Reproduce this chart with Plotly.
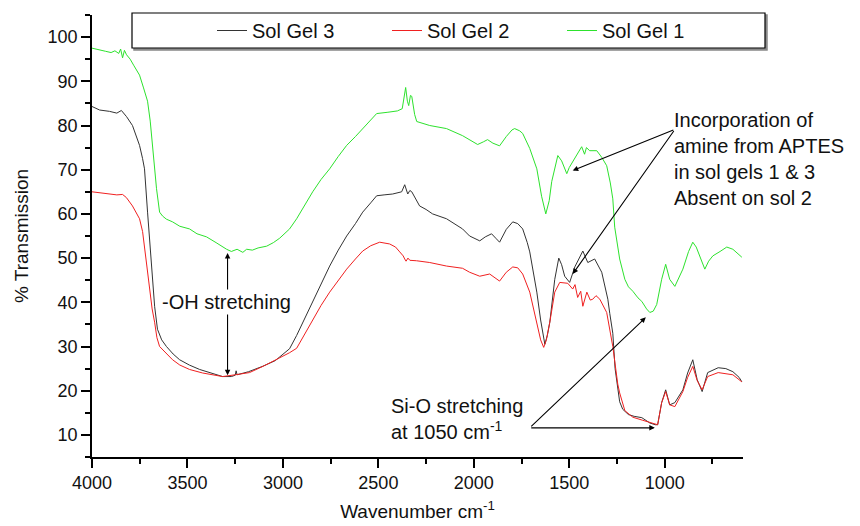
import plotly.graph_objects as go

# ---------------- data ----------------
wn_gel1 = [4000, 3960, 3930, 3900, 3880, 3860, 3850, 3840, 3830, 3819, 3800, 3780, 3751, 3730, 3709,
           3695, 3683, 3670, 3662, 3646, 3630, 3610, 3578, 3540, 3489, 3450, 3400, 3350, 3320, 3295,
           3270, 3240, 3210, 3190, 3160, 3130, 3085, 3050, 3017, 2965, 2928, 2890, 2844, 2800, 2755,
           2710, 2666, 2620, 2582, 2540, 2509, 2450, 2400, 2375, 2365, 2357, 2348, 2341, 2332, 2325,
           2310, 2299, 2231, 2143, 2059, 2000, 1980, 1950, 1928, 1900, 1865, 1830, 1800, 1786, 1760,
           1744, 1707, 1670, 1645, 1623, 1605, 1592, 1560, 1540, 1513, 1500, 1482, 1460, 1435, 1420,
           1410, 1393, 1356, 1330, 1304, 1285, 1272, 1262, 1246, 1236, 1209, 1190, 1167, 1140, 1120,
           1095, 1078, 1060, 1042, 1028, 1016, 995, 974, 947, 905, 875, 853, 835, 816, 790, 770, 748,
           710, 675, 643, 620, 596]
t_gel1 = [97.5, 97.0, 96.8, 96.5, 96.9, 96.3, 97.3, 95.3, 97.0, 96.0, 95.0, 93.5, 91.4, 88.5, 85.5,
          81.0, 75.5, 69.5, 65.7, 60.4, 59.5, 58.8, 58.2, 57.2, 56.6, 55.5, 54.8, 53.5, 52.6, 52.0,
          51.5, 52.0, 51.3, 52.0, 51.8, 52.3, 52.7, 53.5, 54.5, 56.6, 58.9, 61.8, 65.0, 67.8, 70.2,
          73.0, 75.5, 77.5, 79.3, 81.3, 82.7, 83.0, 83.3, 83.8, 86.0, 88.6, 85.5, 84.5, 86.8, 86.6,
          82.5, 80.9, 80.0, 79.3, 77.7, 76.2, 75.7, 76.3, 76.8, 76.0, 75.4, 77.5, 79.0, 79.3, 78.8,
          78.2, 74.8, 70.2, 64.0, 60.0, 63.0, 67.3, 73.2, 72.0, 69.1, 70.5, 71.8, 73.5, 75.2, 73.5,
          75.0, 74.3, 74.3, 72.8, 70.9, 67.0, 63.4, 57.0, 52.0, 49.8, 45.2, 43.5, 42.5, 41.0, 40.2,
          38.5, 37.7, 38.0, 39.5, 42.5, 45.2, 48.6, 45.2, 43.6, 47.5, 51.5, 53.6, 52.5, 50.5, 47.5,
          49.3, 50.5, 51.5, 52.5, 52.0, 51.2, 50.2]

wn_gel3 = [4000, 3960, 3908, 3870, 3846, 3819, 3788, 3770, 3751, 3735, 3725, 3709, 3698, 3688, 3672,
           3657, 3635, 3610, 3575, 3541, 3490, 3436, 3380, 3316, 3270, 3250, 3245, 3240, 3180, 3107,
           3040, 2990, 2965, 2928, 2890, 2844, 2800, 2755, 2710, 2666, 2620, 2582, 2540, 2509, 2470,
           2425, 2378, 2362, 2346, 2335, 2325, 2284, 2250, 2216, 2143, 2100, 2059, 2022, 1969, 1940,
           1907, 1885, 1865, 1830, 1796, 1770, 1744, 1720, 1707, 1670, 1650, 1628, 1615, 1602, 1576,
           1555, 1540, 1524, 1498, 1471, 1450, 1429, 1403, 1367, 1330, 1298, 1288, 1272, 1260, 1246,
           1236, 1220, 1190, 1160, 1120, 1078, 1050, 1037, 1016, 995, 974, 947, 905, 880, 853, 830,
           804, 775, 720, 680, 643, 610, 596]
t_gel3 = [84.3, 83.5, 83.2, 82.8, 83.4, 82.0, 80.0, 78.0, 75.5, 72.5, 70.2, 60.4, 54.0, 49.0, 39.1,
          33.9, 31.5, 30.0, 28.3, 27.0, 25.8, 24.8, 24.0, 23.2, 23.2, 23.5, 24.5, 23.6, 24.3, 25.5,
          26.8, 28.5, 29.5, 32.5, 36.0, 40.0, 44.3, 48.2, 51.8, 55.0, 57.8, 60.4, 62.5, 64.1, 64.3,
          64.5, 65.0, 66.6, 64.5, 65.3, 65.0, 61.8, 61.0, 60.0, 58.9, 57.8, 56.6, 55.0, 53.9, 54.8,
          55.5, 54.5, 53.6, 56.5, 58.2, 57.8, 56.6, 53.5, 51.4, 42.3, 36.0, 30.5, 32.5, 35.5, 45.2,
          50.0, 48.5, 45.9, 44.5, 48.0, 50.0, 51.6, 49.0, 49.8, 46.8, 40.7, 37.5, 33.0, 25.0, 21.0,
          17.5, 15.8, 14.6, 14.2, 13.9, 12.7, 12.3, 12.3, 17.3, 20.2, 16.8, 17.3, 20.2, 24.0, 27.0, 22.5,
          19.8, 24.1, 25.2, 25.0, 24.3, 23.0, 22.0]

wn_gel2 = [4000, 3960, 3908, 3870, 3840, 3820, 3788, 3751, 3735, 3725, 3710, 3699, 3685, 3672, 3660,
           3646, 3630, 3600, 3578, 3540, 3489, 3420, 3316, 3250, 3175, 3100, 3033, 2990, 2965, 2928,
           2890, 2844, 2800, 2755, 2710, 2666, 2620, 2582, 2540, 2493, 2441, 2410, 2388, 2370, 2362,
           2355, 2345, 2335, 2300, 2231, 2143, 2059, 2022, 1969, 1917, 1865, 1830, 1796, 1770, 1744,
           1707, 1670, 1650, 1634, 1620, 1602, 1576, 1550, 1508, 1482, 1470, 1456, 1440, 1429, 1408,
           1390, 1377, 1360, 1340, 1304, 1290, 1272, 1246, 1236, 1209, 1167, 1115, 1037, 1016, 995,
           974, 947, 905, 880, 853, 830, 804, 775, 720, 643, 596]
t_gel2 = [65.0, 64.8, 64.5, 64.3, 64.4, 63.7, 61.8, 58.9, 56.0, 52.7, 47.5, 43.0, 38.5, 35.5, 32.0,
          30.0, 29.3, 28.2, 27.0, 25.8, 24.8, 24.0, 23.2, 23.6, 24.1, 25.6, 27.0, 27.9, 28.6, 29.6,
          32.5, 36.1, 39.3, 42.3, 45.0, 47.5, 49.8, 51.6, 52.8, 53.6, 53.2, 52.5, 51.4, 50.5, 49.8,
          49.3, 50.0, 49.5, 49.4, 49.0, 48.2, 47.7, 46.8, 45.9, 46.4, 44.8, 46.8, 48.0, 47.8, 46.4,
          42.3, 35.5, 31.5, 29.8, 31.5, 35.5, 42.3, 44.5, 44.3, 43.0, 44.0, 41.1, 42.5, 39.1, 42.3,
          40.5, 40.7, 41.5, 40.7, 37.7, 34.5, 30.0, 21.5, 19.5, 15.5, 14.0, 13.3, 12.3, 17.3, 19.8,
          16.8, 16.4, 19.8, 23.0, 25.5, 22.3, 20.2, 23.2, 24.1, 23.6, 22.0]

series_names = ["Sol Gel 3", "Sol Gel 2", "Sol Gel 1"]
x_ticks = [4000, 3500, 3000, 2500, 2000, 1500, 1000]
y_ticks = [10, 20, 30, 40, 50, 60, 70, 80, 90, 100]

# ---------------- figure ----------------
FONT = "Arial, Liberation Sans, sans-serif"
fig = go.Figure()
fig.add_trace(go.Scatter(x=wn_gel3, y=t_gel3, mode="lines", name=series_names[0],
                         line=dict(color="#333333", width=1)))
fig.add_trace(go.Scatter(x=wn_gel2, y=t_gel2, mode="lines", name=series_names[1],
                         line=dict(color="#f02020", width=1)))
fig.add_trace(go.Scatter(x=wn_gel1, y=t_gel1, mode="lines", name=series_names[2],
                         line=dict(color="#2de22d", width=1)))

L, R, T, B = 92, 117, 15, 69
W, H = 860, 526
pw, ph = W - L - R, H - T - B


def px_x(p):
    return (p - L) / pw


def px_y(p):
    return 1 - (p - T) / ph


# legend frame (shadow + box)
fig.add_shape(type="rect", xref="paper", yref="paper",
              x0=px_x(134), x1=px_x(767), y0=px_y(50), y1=px_y(15),
              line=dict(color="#888888", width=1.5), fillcolor="#999999", layer="below")
fig.add_shape(type="rect", xref="paper", yref="paper",
              x0=px_x(132), x1=px_x(765), y0=px_y(48), y1=px_y(13),
              line=dict(color="black", width=1.2), fillcolor="white", layer="below")

arrow_kw = dict(showarrow=True, arrowhead=2, arrowsize=1, arrowwidth=1.1,
                arrowcolor="black", axref="x", ayref="y", text="")
ann = [
    dict(x=3290, y=23.5, ax=3290, ay=51.5, arrowside="end+start", **arrow_kw),
    dict(x=3646, y=40, xanchor="left", yanchor="middle", text="-OH stretching",
         showarrow=False, bgcolor="white", font=dict(size=20, color="#111")),
    dict(x=963, y=72.4, xanchor="left", yanchor="middle", align="left",
         text="Incorporation of<br>amine from APTES<br>in sol gels 1 &amp; 3<br>Absent on sol 2",
         showarrow=False, font=dict(size=20, color="#111")),
    dict(x=1482, y=69.8, ax=947, ay=79.1, **arrow_kw),
    dict(x=1482, y=46.4, ax=947, ay=79.1, **arrow_kw),
    dict(x=2446, y=13.6, xanchor="left", yanchor="middle", align="left",
         text="Si-O stretching<br>at 1050 cm<sup>-1</sup>",
         showarrow=False, font=dict(size=20, color="#111")),
    dict(x=1052, y=11.6, ax=1707, ay=11.6, **arrow_kw),
    dict(x=1099, y=36.6, ax=1707, ay=11.6, **arrow_kw),
]
fig.update_layout(annotations=ann)

fig.update_layout(
    width=W, height=H,
    margin=dict(l=L, r=R, t=T, b=B, autoexpand=False),
    paper_bgcolor="white", plot_bgcolor="white",
    font=dict(family=FONT, color="#111"),
    showlegend=True,
    legend=dict(orientation="h", x=px_x(212), xanchor="left", y=px_y(30.5), yanchor="middle",
                bgcolor="rgba(0,0,0,0)", borderwidth=0, font=dict(size=20),
                entrywidth=130, entrywidthmode="pixels"),
    xaxis=dict(range=[4000, 590], tickvals=x_ticks, showgrid=False, zeroline=False,
               showline=True, linecolor="black", linewidth=1.6, automargin=False,
               ticks="outside", ticklen=9, tickwidth=1.5, tickcolor="black",
               tickfont=dict(size=18), ticklabelstandoff=0,
               minor=dict(ticks="outside", ticklen=5, tickwidth=1.5, tickcolor="black",
                          dtick=250, showgrid=False),
               title=dict(text="Wavenumber cm<sup>-1</sup>", font=dict(size=19), standoff=12)),
    yaxis=dict(range=[5, 105], tickvals=y_ticks, showgrid=False, zeroline=False,
               showline=True, linecolor="black", linewidth=1.6, automargin=False,
               ticks="outside", ticklen=9, tickwidth=1.5, tickcolor="black",
               tickfont=dict(size=18),
               minor=dict(ticks="outside", ticklen=5, tickwidth=1.5, tickcolor="black",
                          dtick=5, tick0=5, showgrid=False),
               title=dict(text="% Transmission", font=dict(size=19), standoff=14)),
)

fig.write_html("out.html")
